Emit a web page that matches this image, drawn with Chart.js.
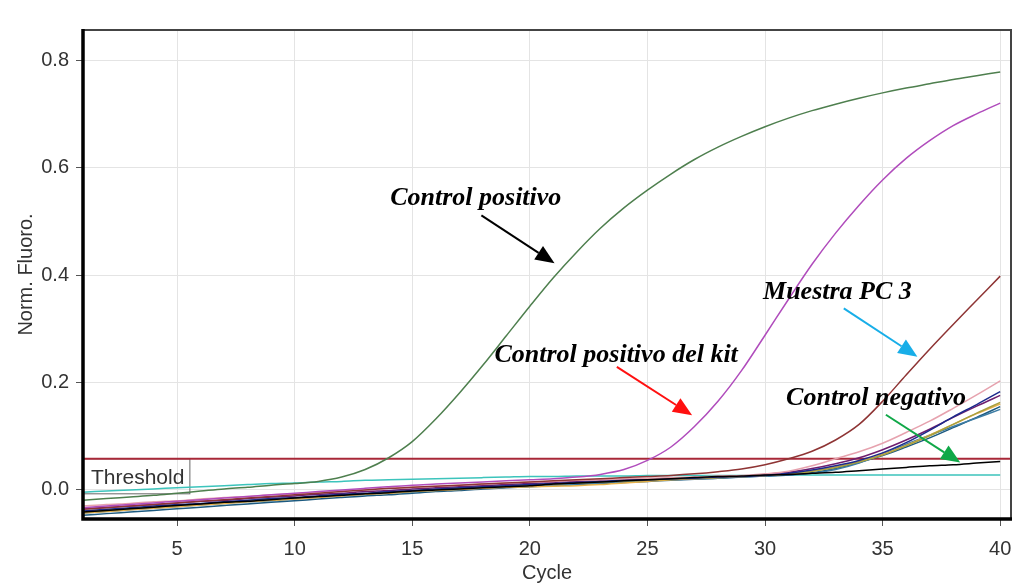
<!DOCTYPE html>
<html>
<head>
<meta charset="utf-8">
<script src="https://cdn.jsdelivr.net/npm/chart.js@4.4.1/dist/chart.umd.min.js"></script>
<style>
  body { margin: 0; background: #fff; }
  #wrap { width: 1013px; height: 585px; }
</style>
</head>
<body>
<div id="wrap"><canvas id="myChart" width="1013" height="585"></canvas></div>
<script>
// Ciclos y valores
var cycles = [1,2,3,4,5,6,7,8,9,10,11,12,13,14,15,16,17,18,19,20,21,22,23,24,25,26,27,28,29,30,31,32,33,34,35,36,37,38,39,40];

var controlPositivo = [-0.019,-0.016,-0.013,-0.010,-0.006,-0.002,0.002,0.005,0.009,0.012,0.016,0.024,0.038,0.06,0.09,0.132,0.18,0.232,0.287,0.342,0.395,0.443,0.487,0.525,0.558,0.588,0.615,0.638,0.658,0.676,0.692,0.706,0.718,0.729,0.739,0.748,0.756,0.764,0.771,0.778];
var controlKit = [-0.033,-0.030,-0.027,-0.024,-0.021,-0.018,-0.015,-0.012,-0.009,-0.006,-0.003,0.000,0.003,0.006,0.009,0.011,0.013,0.015,0.017,0.019,0.021,0.024,0.029,0.038,0.055,0.08,0.118,0.165,0.222,0.288,0.355,0.42,0.478,0.53,0.577,0.617,0.65,0.678,0.7,0.72];
var muestraPC3 = [-0.036,-0.033,-0.030,-0.027,-0.024,-0.021,-0.018,-0.015,-0.012,-0.009,-0.006,-0.003,0.000,0.003,0.005,0.007,0.009,0.011,0.013,0.015,0.017,0.019,0.021,0.023,0.025,0.027,0.030,0.034,0.039,0.047,0.058,0.072,0.093,0.122,0.165,0.214,0.262,0.308,0.353,0.398];
var cianPlano = [-0.004,-0.002,0.000,0.002,0.004,0.006,0.008,0.010,0.012,0.013,0.015,0.016,0.018,0.019,0.020,0.021,0.022,0.023,0.024,0.025,0.025,0.026,0.026,0.026,0.027,0.027,0.027,0.027,0.027,0.028,0.028,0.028,0.028,0.028,0.028,0.028,0.028,0.028,0.028,0.028];
var muestraRosa = [-0.030,-0.027,-0.025,-0.022,-0.020,-0.017,-0.014,-0.012,-0.009,-0.007,-0.004,-0.002,0.001,0.003,0.005,0.007,0.009,0.011,0.013,0.015,0.016,0.018,0.019,0.021,0.022,0.023,0.024,0.026,0.027,0.030,0.035,0.045,0.058,0.071,0.087,0.107,0.128,0.152,0.177,0.203];
var muestraAzul = [-0.039,-0.036,-0.033,-0.030,-0.027,-0.025,-0.022,-0.019,-0.016,-0.014,-0.011,-0.008,-0.006,-0.003,-0.001,0.002,0.004,0.006,0.008,0.010,0.012,0.014,0.016,0.018,0.019,0.021,0.022,0.024,0.025,0.027,0.031,0.037,0.045,0.055,0.069,0.088,0.111,0.136,0.159,0.183];
var muestraMorada = [-0.035,-0.032,-0.030,-0.027,-0.024,-0.021,-0.019,-0.016,-0.013,-0.011,-0.008,-0.006,-0.003,-0.001,0.002,0.004,0.006,0.008,0.010,0.012,0.014,0.016,0.017,0.019,0.020,0.022,0.023,0.025,0.026,0.029,0.033,0.040,0.049,0.060,0.075,0.093,0.113,0.135,0.156,0.176];
var muestraOliva = [-0.041,-0.038,-0.035,-0.032,-0.029,-0.026,-0.023,-0.020,-0.017,-0.015,-0.012,-0.009,-0.007,-0.004,-0.002,0.001,0.003,0.005,0.007,0.009,0.011,0.013,0.015,0.017,0.018,0.020,0.022,0.023,0.025,0.027,0.030,0.035,0.042,0.052,0.065,0.082,0.101,0.122,0.143,0.163];
var muestraDorada = [-0.043,-0.040,-0.037,-0.034,-0.031,-0.028,-0.025,-0.022,-0.019,-0.017,-0.014,-0.011,-0.008,-0.006,-0.003,-0.001,0.001,0.003,0.005,0.006,0.007,0.008,0.010,0.013,0.016,0.019,0.021,0.023,0.025,0.027,0.030,0.035,0.043,0.053,0.066,0.083,0.102,0.122,0.142,0.160];
var muestraTeal = [-0.043,-0.040,-0.037,-0.034,-0.031,-0.028,-0.025,-0.022,-0.020,-0.017,-0.014,-0.011,-0.009,-0.006,-0.004,-0.001,0.001,0.003,0.005,0.007,0.009,0.011,0.013,0.015,0.017,0.019,0.021,0.022,0.024,0.026,0.028,0.031,0.038,0.050,0.067,0.085,0.102,0.118,0.134,0.150];
var muestraTealOsc = [-0.047,-0.044,-0.041,-0.038,-0.035,-0.032,-0.029,-0.026,-0.023,-0.020,-0.017,-0.014,-0.011,-0.009,-0.006,-0.003,-0.001,0.002,0.004,0.006,0.008,0.010,0.012,0.014,0.016,0.018,0.020,0.022,0.024,0.026,0.028,0.032,0.040,0.051,0.064,0.080,0.097,0.116,0.135,0.155];
var controlNegativo = [-0.041,-0.038,-0.035,-0.032,-0.029,-0.026,-0.023,-0.021,-0.018,-0.015,-0.012,-0.010,-0.007,-0.005,-0.002,0.000,0.002,0.004,0.006,0.008,0.011,0.013,0.015,0.017,0.019,0.021,0.023,0.025,0.026,0.028,0.029,0.031,0.033,0.036,0.039,0.042,0.045,0.047,0.050,0.053];

var threshold = 0.058;
var xTicks = [5, 10, 15, 20, 25, 30, 35, 40];
var yTicks = [0.0, 0.2, 0.4, 0.6, 0.8];
var yTickLabels = ['0.0', '0.2', '0.4', '0.6', '0.8'];

// etiquetas: [texto, ciclo, valor de la línea base]
var etiquetas = [
    ['Control positivo', 17.7, 0.531],
    ['Control positivo del kit', 23.67, 0.2385],
    ['Muestra PC 3', 33.08, 0.3555],
    ['Control negativo', 34.72, 0.158]
];
// flechas: [color, ciclo inicio, valor inicio, ciclo fin, valor fin]
var flechas = [
    ['#000000', 17.94, 0.511, 21.05, 0.422],
    ['#ff1010', 23.7, 0.229, 26.9, 0.139],
    ['#18aee8', 33.35, 0.338, 36.48, 0.248],
    ['#10a848', 35.14, 0.14, 38.3, 0.051]
];

function serie(valores) {
    return cycles.map(function(c, i) { return { x: c, y: valores[i] }; });
}

function linea(valores, color, ancho) {
    return {
        data: serie(valores),
        borderColor: color,
        borderWidth: ancho || 1.5,
        pointRadius: 0,
        fill: false,
        cubicInterpolationMode: 'monotone'
    };
}

var plugAnotaciones = {
    id: 'anotaciones',
    beforeDatasetsDraw: function(chart) {
        var ctx = chart.ctx;
        var ys = chart.scales.y;
        var a = chart.chartArea;
        // recuadro del umbral
        var ty = ys.getPixelForValue(threshold);
        ctx.save();
        ctx.font = '21px "Liberation Sans", Arial, sans-serif';
        var w = ctx.measureText('Threshold').width;
        ctx.strokeStyle = '#666';
        ctx.lineWidth = 1;
        ctx.strokeRect(a.left + 0.5, ty, w + 13, 35);
        ctx.fillStyle = '#333';
        ctx.textBaseline = 'middle';
        ctx.fillText('Threshold', a.left + 8, ty + 19);
        ctx.restore();
    },
    afterDatasetsDraw: function(chart) {
        var ctx = chart.ctx;
        var xs = chart.scales.x, ys = chart.scales.y;
        var a = chart.chartArea;
        ctx.save();
        // bordes del área
        ctx.strokeStyle = '#444';
        ctx.lineWidth = 2;
        ctx.beginPath();
        ctx.moveTo(a.left, a.top);
        ctx.lineTo(a.right, a.top);
        ctx.lineTo(a.right, a.bottom);
        ctx.stroke();
        ctx.strokeStyle = '#000';
        ctx.lineWidth = 3.5;
        ctx.beginPath();
        ctx.moveTo(a.left, a.top - 1);
        ctx.lineTo(a.left, a.bottom);
        ctx.lineTo(a.right + 1, a.bottom);
        ctx.stroke();

        // textos
        ctx.font = 'italic bold 26px "Liberation Serif", "Times New Roman", serif';
        ctx.fillStyle = '#000';
        ctx.textAlign = 'center';
        ctx.textBaseline = 'alphabetic';
        etiquetas.forEach(function(e) {
            ctx.fillText(e[0], xs.getPixelForValue(e[1]), ys.getPixelForValue(e[2]));
        });

        // flechas
        flechas.forEach(function(f) {
            var x1 = xs.getPixelForValue(f[1]), y1 = ys.getPixelForValue(f[2]);
            var x2 = xs.getPixelForValue(f[3]), y2 = ys.getPixelForValue(f[4]);
            var ang = Math.atan2(y2 - y1, x2 - x1);
            var largo = 19, medio = 8;
            var bx = x2 - largo * Math.cos(ang), by = y2 - largo * Math.sin(ang);
            ctx.strokeStyle = f[0];
            ctx.fillStyle = f[0];
            ctx.lineWidth = 2;
            ctx.beginPath();
            ctx.moveTo(x1, y1);
            ctx.lineTo(bx, by);
            ctx.stroke();
            ctx.beginPath();
            ctx.moveTo(x2, y2);
            ctx.lineTo(bx + medio * Math.sin(ang), by - medio * Math.cos(ang));
            ctx.lineTo(bx - medio * Math.sin(ang), by + medio * Math.cos(ang));
            ctx.closePath();
            ctx.fill();
        });
        ctx.restore();
    }
};

var ctx = document.getElementById('myChart').getContext('2d');
var myChart = new Chart(ctx, {
    type: 'line',
    data: {
        datasets: [
            linea(controlPositivo, '#4e7f4e'),
            linea(controlKit, '#b04cbc'),
            linea(muestraPC3, '#8e3434'),
            linea(controlNegativo, '#000000'),
            linea(muestraRosa, '#e6a2ae'),
            linea(muestraAzul, '#1c2a8c'),
            linea(muestraMorada, '#6e1e6e'),
            linea(muestraOliva, '#a8a040'),
            linea(muestraDorada, '#e8b048'),
            linea(muestraTeal, '#3c7ca4'),
            linea(muestraTealOsc, '#1c5a80'),
            linea(cianPlano, '#3cc4bc'),
            {
                data: [{ x: cycles[0], y: threshold }, { x: 40.46, y: threshold }],
                borderColor: '#a82838',
                borderWidth: 2,
                pointRadius: 0,
                fill: false
            }
        ]
    },
    options: {
        responsive: false,
        animation: false,
        layout: { padding: { top: 30, right: 2, left: 0, bottom: 0 } },
        plugins: {
            legend: { display: false },
            tooltip: { enabled: false }
        },
        scales: {
            x: {
                type: 'linear',
                min: 1,
                max: 40.46,
                afterBuildTicks: function(scale) {
                    scale.ticks = xTicks.map(function(v) { return { value: v }; });
                },
                afterFit: function(scale) {
                    scale.height = 66;
                    scale.paddingLeft = 0;
                    scale.paddingRight = 0;
                },
                ticks: {
                    autoSkip: false,
                    maxRotation: 0,
                    color: '#333',
                    padding: 11,
                    font: { family: '"Liberation Sans", Arial, sans-serif', size: 20 },
                    callback: function(v) { return String(v); }
                },
                grid: { color: '#e4e4e4', tickColor: '#555', tickLength: 7 },
                border: { display: false },
                title: {
                    display: true,
                    text: 'Cycle',
                    color: '#333',
                    padding: { top: 0, bottom: 0 },
                    font: { family: '"Liberation Sans", Arial, sans-serif', size: 20 }
                }
            },
            y: {
                min: -0.054,
                max: 0.856,
                afterBuildTicks: function(scale) {
                    scale.ticks = yTicks.map(function(v) { return { value: v }; });
                },
                afterFit: function(scale) {
                    scale.width = 83;
                    scale.paddingTop = 0;
                    scale.paddingBottom = 0;
                },
                ticks: {
                    color: '#333',
                    padding: 7,
                    font: { family: '"Liberation Sans", Arial, sans-serif', size: 20 },
                    callback: function(v) { return yTickLabels[yTicks.indexOf(v)]; }
                },
                grid: { color: '#e4e4e4', tickColor: '#555', tickLength: 7 },
                border: { display: false },
                title: {
                    display: true,
                    text: 'Norm. Fluoro.',
                    color: '#333',
                    padding: { top: 14, bottom: 0 },
                    font: { family: '"Liberation Sans", Arial, sans-serif', size: 20 }
                }
            }
        }
    },
    plugins: [plugAnotaciones]
});
</script>
</body>
</html>
